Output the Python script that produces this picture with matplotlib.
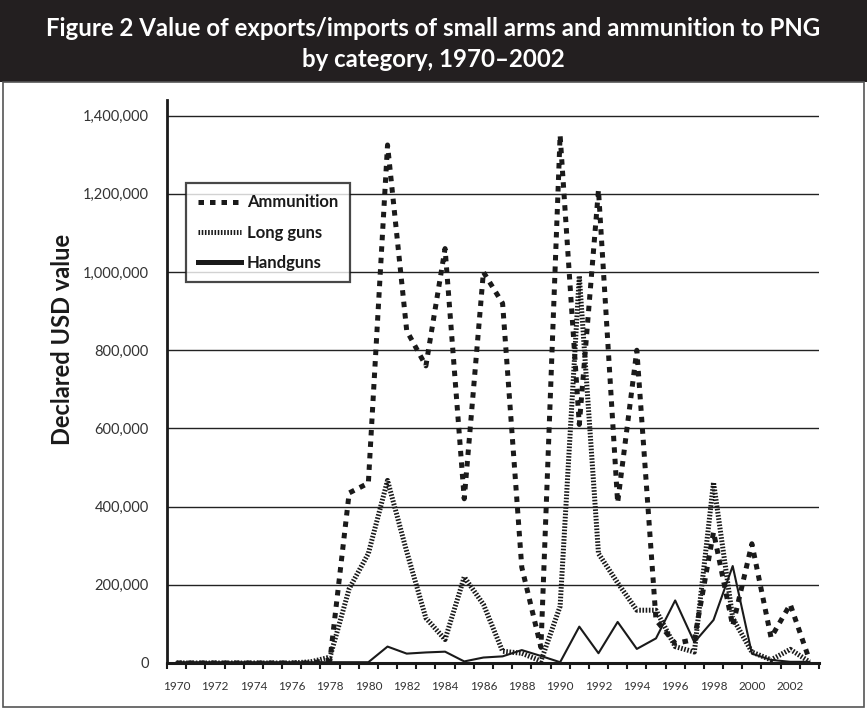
import matplotlib
matplotlib.use("Agg")
import matplotlib.pyplot as plt
from matplotlib import font_manager
from matplotlib.lines import Line2D
from matplotlib.patches import Rectangle
from matplotlib.ticker import FuncFormatter

# data (declared USD value)
years = list(range(1970, 2004))
ammunition = [0, 0, 0, 0, 0, 0, 0, 0,
              8000, 435000, 460000, 1325000, 850000, 760000, 1060000, 420000,
              1000000, 920000, 245000, 40000, 1350000, 610000, 1210000, 410000,
              800000, 110000, 50000, 60000, 335000, 95000, 305000, 65000,
              150000, 8000]
long_guns = [0, 0, 0, 0, 0, 0, 0,
             3000, 15000, 190000, 280000, 467000, 285000, 115000, 60000,
             220000, 150000, 30000, 25000, 5000, 145000, 990000, 280000,
             205000, 135000, 135000, 42000, 28000, 462000, 115000, 28000,
             8000, 35000, 3000]
handguns = [2000] * 11 + [42000, 24000, 27000, 29000, 4000, 14000, 17000,
                          33000, 18000, 2000, 93000, 25000, 105000, 36000,
                          63000, 160000, 53000, 110000, 248000, 24000, 8000,
                          3000, 3000]
labels = ["Ammunition", "Long guns", "Handguns"]
title = "Figure 2 Value of exports/imports of small arms and ammunition to PNG\nby category, 1970\u20132002"
ylabel = "Declared USD value"

def pick(fam, fallback):
    try:
        font_manager.findfont(fam, fallback_to_default=False)
        return fam
    except Exception:
        return fallback

head_font = pick("Liberation Sans Narrow", "Lato")
body_font = "Lato"
ink = "#1a1a1a"

fig = plt.figure(figsize=(8.67, 7.10), dpi=100)

# black header band + frame
fig.patches.append(Rectangle((0, 1 - 82 / 710), 1, 82 / 710, transform=fig.transFigure,
                             facecolor="#231f20", edgecolor="none", zorder=0))
fig.patches.append(Rectangle((0.003, 0.004), 0.994, 1 - 82 / 710 - 0.004,
                             transform=fig.transFigure, facecolor="none",
                             edgecolor="#555555", linewidth=1.2, zorder=0))
fig.text(0.5, 1 - 44 / 710, title, ha="center", va="center", color="white",
         fontsize=20 if head_font != "Lato" else 17.3, fontweight="bold",
         family=head_font, linespacing=1.45)

ax = fig.add_axes([167 / 867, 1 - 663 / 710, (819 - 167) / 867, 563 / 710])

ax.plot(years, ammunition, color=ink, lw=3.6, dashes=(1.1, 1.2), zorder=3)
ax.plot(years, long_guns, color=ink, lw=3.6, dashes=(0.32, 0.32), zorder=3)
ax.plot(years, handguns, color=ink, lw=1.5, zorder=4)

ax.set_xlim(1969.5, 2003.5)
ax.set_ylim(0, 1440000)
ax.set_yticks(range(0, 1400001, 200000))
ax.yaxis.set_major_formatter(FuncFormatter(lambda v, p: f"{int(v):,}"))
ax.grid(axis="y", color="#222222", lw=1.0)
ax.set_axisbelow(True)

ax.set_xticks(range(1970, 2003, 2))
ax.set_xticklabels([str(y) for y in range(1970, 2003, 2)])
ax.set_xticks([y + 0.5 for y in range(1969, 2004)], minor=True)
ax.tick_params(axis="x", which="major", length=0, pad=13, labelsize=8.5, labelcolor="#333333")
ax.tick_params(axis="x", which="minor", length=4, width=1.5, direction="out", color=ink)
ax.tick_params(axis="y", length=0, pad=13, labelsize=10.5, labelcolor="#333333")
for t in ax.get_xticklabels() + ax.get_yticklabels():
    t.set_family(body_font)

for s in ["top", "right"]:
    ax.spines[s].set_visible(False)
ax.spines["left"].set_linewidth(2)
ax.spines["bottom"].set_linewidth(2.2)
ax.spines["left"].set_color(ink)
ax.spines["bottom"].set_color(ink)

fig.text(63 / 867, 1 - 339 / 710, ylabel, rotation=90, ha="center", va="center",
         fontsize=17, fontweight="bold", family=body_font, color=ink)

handles = [Line2D([], [], color=ink, lw=3.6, dashes=(1.1, 1.2)),
           Line2D([], [], color=ink, lw=3.6, dashes=(0.32, 0.32)),
           Line2D([], [], color=ink, lw=3.6)]
leg = ax.legend(handles, labels, loc="upper left", bbox_to_anchor=(0.029, 0.853),
                borderaxespad=0, frameon=True, fancybox=False, handlelength=2.6,
                handletextpad=0.35, labelspacing=0.85, borderpad=0.7,
                prop={"family": body_font, "weight": "bold", "size": 12})
leg.get_frame().set_edgecolor(ink)
leg.get_frame().set_linewidth(1.6)
for t in leg.get_texts():
    t.set_color(ink)

fig.savefig("out.png", dpi=100)
